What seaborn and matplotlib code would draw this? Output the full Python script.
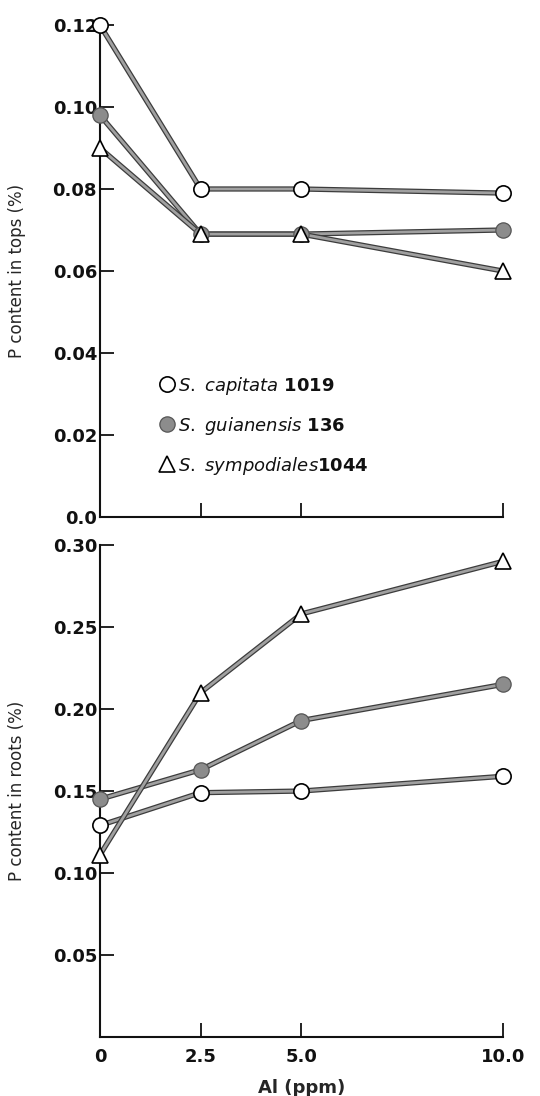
import numpy as np
import pandas as pd
import seaborn as sns
import matplotlib
matplotlib.use("Agg")
import matplotlib.pyplot as plt
import matplotlib.patheffects as pe
from matplotlib.lines import Line2D

# Al concentrations in the nutrient solution (ppm)
al_ppm = [0, 2.5, 5.0, 10.0]

# P content in tops (%)
tops_capitata = [0.120, 0.080, 0.080, 0.079]
tops_guianensis = [0.098, 0.069, 0.069, 0.070]
tops_sympodiales = [0.090, 0.069, 0.069, 0.060]

# P content in roots (%)
roots_capitata = [0.129, 0.149, 0.150, 0.159]
roots_guianensis = [0.145, 0.163, 0.193, 0.215]
roots_sympodiales = [0.111, 0.210, 0.258, 0.290]

species = ["capitata", "guianensis", "sympodiales"]
species_labels = [
    r"$\mathit{S.\ capitata}$ $\mathbf{1019}$",
    r"$\mathit{S.\ guianensis}$ $\mathbf{136}$",
    r"$\mathit{S.\ sympodiales}$$\mathbf{1044}$",
]
top_ticks = [0.0, 0.02, 0.04, 0.06, 0.08, 0.10, 0.12]
top_ticklabels = ["0.0", "0.02", "0.04", "0.06", "0.08", "0.10", "0.12"]
root_ticks = [0.05, 0.10, 0.15, 0.20, 0.25, 0.30]
root_ticklabels = ["0.05", "0.10", "0.15", "0.20", "0.25", "0.30"]
x_ticklabels = ["0", "2.5", "5.0", "10.0"]

tops = pd.DataFrame({
    "al": al_ppm * 3,
    "p": tops_capitata + tops_guianensis + tops_sympodiales,
    "species": sum([[s] * 4 for s in species], []),
})
roots = pd.DataFrame({
    "al": al_ppm * 3,
    "p": roots_capitata + roots_guianensis + roots_sympodiales,
    "species": sum([[s] * 4 for s in species], []),
})

sns.set_theme(style="ticks")
plt.rcParams["font.family"] = ["DejaVu Sans"]
plt.rcParams["mathtext.fontset"] = "dejavusans"

marker_style = {
    "capitata": dict(marker="o", markerfacecolor="white", markeredgecolor="black",
                     markersize=11, markeredgewidth=1.2),
    "guianensis": dict(marker="o", markerfacecolor="#8c8c8c", markeredgecolor="#555555",
                       markersize=11, markeredgewidth=0.9),
    "sympodiales": dict(marker="^", markerfacecolor="white", markeredgecolor="black",
                        markersize=12, markeredgewidth=1.2),
}
# gray line with a dark rim on both sides
line_fx = [pe.Stroke(linewidth=3.8, foreground="#3c3c3c"), pe.Normal()]

fig = plt.figure(figsize=(5.4, 10.96), dpi=100)
ax_top = fig.add_axes([0.185, 0.5283, 0.746, 0.4489])
ax_bot = fig.add_axes([0.185, 0.0538, 0.746, 0.4489])

for ax, df in [(ax_top, tops), (ax_bot, roots)]:
    for s in species:
        sub = df[df["species"] == s]
        sns.lineplot(data=sub, x="al", y="p", ax=ax, color="#a0a0a0", linewidth=2.0,
                     clip_on=False, zorder=3, legend=False)
        ax.get_lines()[-1].set_path_effects(line_fx)
    for s in species:
        sub = df[df["species"] == s]
        sns.lineplot(data=sub, x="al", y="p", ax=ax, linestyle="none",
                     clip_on=False, zorder=4, legend=False, **marker_style[s])
    ax.set_xlim(0, 10)
    ax.set_xticks(al_ppm)
    sns.despine(ax=ax)
    for sp in ["left", "bottom"]:
        ax.spines[sp].set_linewidth(1.5)
        ax.spines[sp].set_color("#111111")
    ax.tick_params(axis="both", direction="in", length=10, width=1.3, color="#111111",
                   labelsize=13, labelcolor="#111111")
    ax.tick_params(axis="y", pad=2)
    ax.tick_params(axis="x", pad=8)

ax_top.set_ylim(0, 0.12)
ax_top.set_yticks(top_ticks)
ax_top.set_yticklabels(top_ticklabels, fontweight="bold")
ax_top.set_xticklabels([])
ax_top.set_xlabel("")
ax_top.set_ylabel("P content in tops (%)", fontsize=12)
ax_top.yaxis.set_label_coords(-0.183, 0.5)

ax_bot.set_ylim(0, 0.30)
ax_bot.set_yticks(root_ticks)
ax_bot.set_yticklabels(root_ticklabels, fontweight="bold")
ax_bot.set_xticklabels(x_ticklabels, fontweight="bold")
ax_bot.set_xlabel("Al (ppm)", fontsize=13, fontweight="bold", labelpad=9)
ax_bot.set_ylabel("P content in roots (%)", fontsize=12)
ax_bot.yaxis.set_label_coords(-0.183, 0.5)

handles = [Line2D([], [], linestyle="none", **{**marker_style[s], "markersize": 11})
           for s in species]
leg = ax_top.legend(handles, species_labels, loc="upper left",
                    bbox_to_anchor=(0.13, 0.304), frameon=False, fontsize=13,
                    handlelength=0.8, handletextpad=0.25, labelspacing=1.0,
                    borderaxespad=0)
for t in leg.get_texts():
    t.set_color("#111111")

fig.savefig("out.png", dpi=100)
